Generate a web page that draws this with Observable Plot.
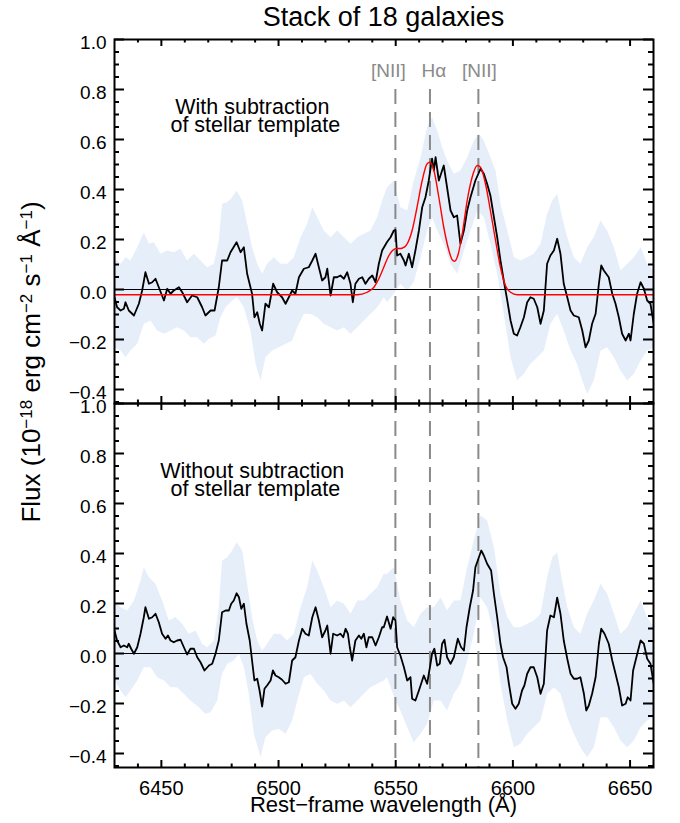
<!DOCTYPE html>
<html><head><meta charset="utf-8">
<script src="https://cdn.jsdelivr.net/npm/d3@7"></script>
<script src="https://cdn.jsdelivr.net/npm/@observablehq/plot@0.6"></script>
<style>
body{margin:0;background:#fff;font-family:"Liberation Sans",Arial,sans-serif;color:#000;}
#wrap{position:relative;width:680px;height:823px;overflow:hidden;}
#title{padding-top:4px;height:26px;line-height:26px;padding-left:114px;width:539px;text-align:center;font-size:27px;white-space:nowrap;}
#chart svg{display:block;}
#ylabel{position:absolute;left:31px;top:362px;transform:translate(-50%,-50%) rotate(-90deg);white-space:nowrap;font-size:26px;line-height:26px;}
#ylabel sup{font-size:17px;vertical-align:0.5em;line-height:0;}
#xlabel{position:absolute;left:114px;width:539px;top:794px;text-align:center;font-size:22px;line-height:22px;white-space:nowrap;}
</style></head>
<body>
<div id="wrap">
<div id="title">Stack of 18 galaxies</div>
<div id="chart"></div>
<div id="ylabel">Flux (10<sup>−18</sup> erg cm<sup>−2</sup> s<sup>−1</sup> Å<sup>−1</sup>)</div>
<div id="xlabel">Rest−frame wavelength (Å)</div>
</div>
<script>
// ---------- data ----------
// Panel 1: with subtraction of stellar template (black spectrum)
const topWave = [6430.0,6431.1,6432.6,6434.0,6434.7,6436.1,6438.3,6440.4,6441.8,6443.2,6444.7,6446.1,6447.5,6448.9,6451.1,6452.5,6453.9,6455.3,6457.5,6458.9,6461.0,6463.1,6465.3,6467.4,6468.8,6471.0,6472.7,6474.5,6475.9,6478.1,6479.5,6482.1,6483.8,6485.2,6486.6,6488.7,6489.7,6490.9,6492.0,6493.0,6494.4,6495.9,6497.7,6499.4,6501.5,6503.0,6504.4,6505.8,6507.2,6508.7,6510.8,6512.9,6514.4,6515.8,6517.2,6518.6,6520.0,6520.8,6522.2,6523.6,6525.0,6526.4,6527.9,6529.3,6530.7,6531.7,6532.8,6534.3,6535.7,6537.1,6538.5,6540.0,6541.4,6542.8,6544.2,6546.3,6547.8,6549.2,6549.9,6550.6,6552.0,6553.5,6554.2,6555.6,6557.0,6558.4,6559.9,6561.3,6562.7,6564.1,6565.5,6566.3,6567.0,6568.4,6569.8,6570.5,6571.9,6573.4,6574.8,6576.2,6577.6,6579.1,6580.5,6581.9,6584.0,6586.2,6587.6,6589.0,6590.4,6591.9,6593.3,6594.7,6596.1,6597.6,6599.0,6600.4,6601.8,6603.2,6604.7,6606.1,6607.5,6608.9,6610.4,6611.8,6613.2,6614.6,6616.0,6617.5,6618.9,6620.3,6621.7,6623.2,6624.6,6626.0,6628.1,6629.6,6631.0,6632.4,6633.8,6635.3,6636.7,6637.7,6638.8,6640.9,6642.4,6643.8,6645.2,6646.6,6648.1,6649.5,6650.2,6651.6,6653.0,6654.5,6655.9,6657.3,6658.7,6660.1];
const topFlux = [-0.031,-0.071,-0.084,-0.077,-0.051,-0.084,-0.104,-0.057,-0.004,0.069,0.023,0.029,0.043,0.009,-0.044,0.003,-0.017,-0.004,0.009,-0.011,-0.051,-0.024,-0.031,-0.071,-0.104,-0.084,-0.084,0.009,0.116,0.116,0.149,0.189,0.149,0.169,0.063,-0.017,-0.111,-0.091,-0.137,-0.164,-0.057,-0.071,0.023,-0.011,-0.031,-0.057,-0.031,-0.004,-0.017,0.049,0.083,0.089,0.116,0.143,0.089,0.036,0.049,0.083,-0.024,0.049,0.049,0.056,0.043,0.069,0.023,-0.051,0.023,0.043,0.049,0.023,0.043,0.056,0.029,0.103,0.156,0.190,0.209,0.236,0.239,0.136,0.143,0.116,0.096,0.143,0.089,0.156,0.236,0.329,0.369,0.436,0.523,0.476,0.529,0.436,0.476,0.496,0.409,0.316,0.289,0.296,0.183,0.236,0.316,0.369,0.436,0.483,0.463,0.423,0.376,0.289,0.209,0.116,0.036,-0.044,-0.124,-0.177,-0.184,-0.151,-0.111,-0.051,-0.031,-0.037,-0.071,-0.137,-0.084,0.103,0.136,0.156,0.203,0.143,0.023,-0.031,-0.084,-0.104,-0.111,-0.164,-0.231,-0.204,-0.137,-0.097,0.023,0.096,0.076,0.049,-0.017,-0.057,-0.111,-0.177,-0.204,-0.177,-0.204,-0.097,-0.017,0.029,0.003,-0.044,-0.057,-0.137];

// Panel 1: band upper and lower edges
const topHiWave = [6430.0,6431.1,6432.6,6434.7,6436.8,6439.7,6442.5,6444.7,6446.8,6449.6,6452.5,6455.3,6458.2,6461.0,6463.9,6466.7,6469.5,6472.4,6474.5,6475.9,6478.1,6480.2,6482.1,6484.5,6486.6,6488.7,6490.9,6493.0,6495.1,6498.0,6500.8,6503.7,6506.5,6509.4,6512.2,6514.4,6516.5,6519.3,6522.2,6525.0,6527.9,6530.7,6533.6,6536.4,6539.2,6542.1,6544.2,6546.3,6549.2,6552.0,6554.9,6557.7,6560.6,6563.4,6565.5,6567.7,6569.8,6571.9,6574.8,6577.6,6580.5,6583.3,6585.5,6587.6,6590.4,6592.6,6594.7,6597.6,6600.4,6603.2,6606.1,6608.9,6611.8,6614.6,6616.8,6618.9,6621.0,6623.2,6626.0,6628.8,6631.7,6634.5,6637.4,6640.2,6643.1,6645.9,6648.8,6651.6,6654.5,6657.3,6660.1];
const topHi = [0.129,0.116,0.103,0.129,0.116,0.169,0.229,0.183,0.189,0.143,0.156,0.149,0.163,0.116,0.143,0.116,0.089,0.103,0.196,0.343,0.349,0.369,0.396,0.356,0.263,0.169,0.103,0.063,0.103,0.129,0.103,0.103,0.129,0.209,0.263,0.329,0.289,0.236,0.209,0.236,0.209,0.183,0.209,0.223,0.236,0.289,0.356,0.409,0.436,0.329,0.316,0.436,0.529,0.649,0.689,0.636,0.569,0.516,0.463,0.476,0.529,0.596,0.623,0.596,0.529,0.476,0.343,0.236,0.129,0.116,0.129,0.143,0.183,0.303,0.356,0.383,0.289,0.209,0.129,0.103,0.169,0.209,0.276,0.236,0.169,0.076,0.103,0.129,0.169,0.103,0.076];
const topLoWave = [6430.0,6432.6,6434.7,6436.8,6439.7,6442.5,6445.4,6448.2,6451.1,6453.9,6456.7,6459.6,6462.4,6465.3,6468.1,6470.3,6473.1,6475.2,6477.4,6480.2,6482.3,6485.2,6488.0,6490.2,6492.3,6494.4,6497.3,6500.1,6503.0,6505.8,6508.0,6510.8,6513.6,6516.5,6519.3,6522.2,6525.0,6527.9,6530.7,6533.6,6536.4,6539.2,6542.1,6544.9,6546.3,6549.2,6552.0,6554.9,6557.7,6560.6,6563.4,6565.5,6567.7,6570.5,6573.4,6576.2,6579.1,6581.9,6584.8,6587.6,6590.4,6593.3,6596.1,6599.0,6601.8,6604.7,6607.5,6610.4,6613.2,6616.0,6618.9,6621.7,6624.6,6627.4,6629.6,6631.7,6634.5,6637.4,6640.2,6643.1,6645.9,6648.8,6651.6,6654.5,6657.3,6660.1];
const topLo = [-0.231,-0.244,-0.271,-0.244,-0.217,-0.137,-0.124,-0.164,-0.177,-0.164,-0.151,-0.164,-0.191,-0.191,-0.217,-0.197,-0.184,-0.111,-0.071,-0.044,-0.031,-0.071,-0.164,-0.297,-0.364,-0.271,-0.244,-0.231,-0.217,-0.204,-0.151,-0.097,-0.097,-0.111,-0.137,-0.151,-0.164,-0.151,-0.177,-0.151,-0.124,-0.097,-0.071,-0.031,-0.050,-0.017,0.023,-0.004,0.030,0.129,0.236,0.289,0.236,0.183,0.103,0.063,0.156,0.236,0.316,0.289,0.183,0.063,-0.097,-0.271,-0.364,-0.337,-0.297,-0.271,-0.244,-0.137,-0.097,-0.164,-0.244,-0.297,-0.364,-0.417,-0.364,-0.244,-0.231,-0.271,-0.324,-0.364,-0.337,-0.284,-0.244,-0.231];

// Panel 1: fitted model (red)
const modelWave = [6430.0,6533.6,6537.8,6540.7,6542.8,6544.9,6547.1,6549.9,6552.7,6554.9,6557.0,6559.1,6561.3,6563.4,6564.6,6566.3,6568.4,6570.5,6572.7,6574.1,6575.1,6576.5,6578.4,6580.5,6582.6,6584.8,6586.2,6588.3,6590.4,6592.6,6594.7,6596.8,6599.0,6601.8,6660.0];
const modelFlux = [-0.021,-0.021,-0.011,0.009,0.043,0.089,0.136,0.163,0.165,0.183,0.236,0.329,0.436,0.503,0.509,0.476,0.369,0.249,0.156,0.119,0.113,0.136,0.223,0.356,0.449,0.496,0.489,0.423,0.316,0.196,0.089,0.016,-0.011,-0.021,-0.021];

// Panel 2: without subtraction (black spectrum)
const botWave = [6430.0,6431.1,6432.6,6434.0,6435.4,6436.1,6437.1,6438.3,6439.7,6441.1,6442.5,6443.2,6444.7,6446.1,6447.5,6448.9,6450.3,6451.8,6452.8,6453.9,6455.3,6456.7,6458.2,6459.6,6461.0,6462.4,6463.9,6465.3,6466.7,6468.4,6470.3,6471.7,6473.1,6474.5,6475.9,6477.4,6478.8,6479.8,6480.9,6482.1,6483.1,6484.1,6485.2,6486.3,6487.7,6488.7,6489.7,6490.9,6491.9,6493.0,6494.0,6495.1,6496.6,6497.6,6498.7,6500.1,6501.5,6503.0,6504.4,6505.8,6507.2,6508.7,6510.1,6511.5,6512.9,6514.4,6515.8,6517.2,6518.6,6520.0,6520.8,6522.2,6523.3,6525.0,6526.4,6527.6,6528.6,6529.6,6530.4,6531.4,6532.8,6534.3,6535.3,6536.4,6537.5,6538.5,6540.0,6541.4,6542.8,6544.2,6544.9,6546.3,6547.8,6548.9,6549.9,6550.6,6552.0,6553.5,6554.9,6556.3,6557.0,6558.4,6559.9,6561.3,6562.0,6563.4,6564.6,6565.5,6566.5,6567.7,6568.8,6569.8,6570.8,6571.9,6573.4,6574.8,6576.5,6577.9,6579.1,6580.2,6581.6,6583.0,6584.0,6585.5,6586.5,6587.6,6589.0,6590.7,6591.9,6593.3,6594.7,6595.8,6597.3,6598.3,6599.7,6601.1,6602.5,6603.9,6604.9,6606.1,6607.5,6608.9,6610.4,6611.8,6613.2,6614.6,6616.0,6617.5,6618.9,6620.3,6621.7,6623.2,6624.6,6626.0,6627.4,6628.8,6630.3,6631.3,6632.4,6633.8,6635.3,6636.7,6637.7,6639.1,6640.9,6642.4,6643.8,6645.2,6646.6,6648.1,6649.0,6650.2,6651.3,6652.7,6654.5,6655.9,6657.3,6658.7,6660.1];
const botFlux = [0.092,0.052,0.025,0.032,0.025,0.039,0.019,-0.001,0.025,0.079,0.145,0.185,0.139,0.145,0.159,0.125,0.079,0.059,0.072,0.052,0.045,0.052,0.055,0.025,-0.004,0.019,0.019,-0.015,-0.035,-0.068,-0.048,-0.041,-0.001,0.052,0.165,0.172,0.172,0.199,0.212,0.241,0.225,0.179,0.199,0.119,0.052,-0.028,-0.108,-0.101,-0.148,-0.212,-0.141,-0.128,-0.108,-0.068,-0.088,-0.095,-0.105,-0.121,-0.115,-0.028,-0.015,0.052,0.099,0.079,0.072,0.145,0.185,0.132,0.065,0.092,0.112,-0.001,0.079,0.072,0.079,0.065,0.099,0.079,0.025,-0.028,0.052,0.072,0.059,0.079,0.025,0.065,0.065,0.032,0.065,0.105,0.105,0.148,0.099,0.145,0.132,0.025,-0.008,-0.055,-0.108,-0.095,-0.181,-0.188,-0.148,-0.108,-0.088,-0.121,-0.055,-0.001,0.019,-0.048,-0.041,0.039,0.055,-0.015,-0.041,-0.015,0.059,0.025,0.012,0.105,0.185,0.252,0.345,0.385,0.412,0.392,0.359,0.332,0.239,0.145,0.039,-0.015,-0.055,-0.121,-0.201,-0.221,-0.201,-0.148,-0.128,-0.081,-0.055,-0.055,-0.095,-0.161,-0.121,0.092,0.152,0.145,0.223,0.159,0.052,-0.021,-0.081,-0.101,-0.101,-0.095,-0.161,-0.228,-0.208,-0.161,-0.095,0.039,0.099,0.079,0.039,-0.028,-0.081,-0.135,-0.208,-0.201,-0.175,-0.188,-0.068,-0.015,0.052,0.039,-0.021,-0.041,-0.121];

// Panel 2: band upper and lower edges
const botHiWave = [6430.0,6432.6,6435.4,6438.3,6441.1,6442.5,6444.7,6447.5,6450.3,6453.2,6456.0,6458.9,6461.7,6464.6,6467.4,6469.5,6472.4,6474.5,6475.9,6478.1,6480.2,6482.1,6484.5,6486.6,6488.7,6490.9,6493.0,6495.1,6498.0,6500.8,6503.7,6506.5,6509.4,6512.2,6514.4,6516.5,6519.3,6522.2,6525.0,6527.9,6530.7,6533.6,6536.4,6539.2,6542.1,6544.9,6546.3,6549.2,6552.0,6554.9,6557.7,6560.6,6563.4,6566.3,6569.1,6571.9,6574.8,6577.6,6580.5,6583.3,6586.2,6589.0,6591.9,6594.7,6597.6,6600.4,6603.2,6606.1,6608.9,6611.8,6614.6,6616.8,6618.9,6621.0,6623.2,6626.0,6628.8,6631.7,6634.5,6637.4,6640.2,6643.1,6645.9,6648.8,6651.6,6654.5,6657.3,6660.1];
const botHi = [0.212,0.185,0.172,0.212,0.292,0.345,0.305,0.279,0.212,0.132,0.145,0.119,0.079,0.092,0.039,0.025,0.052,0.185,0.372,0.385,0.412,0.445,0.412,0.279,0.145,0.052,0.012,0.039,0.079,0.079,0.052,0.079,0.185,0.265,0.372,0.332,0.265,0.185,0.212,0.199,0.159,0.212,0.212,0.239,0.265,0.319,0.319,0.345,0.212,0.132,0.105,0.159,0.185,0.185,0.225,0.172,0.212,0.212,0.345,0.452,0.552,0.532,0.425,0.239,0.145,0.105,0.105,0.119,0.132,0.159,0.305,0.385,0.405,0.292,0.185,0.105,0.079,0.159,0.212,0.279,0.239,0.159,0.079,0.105,0.159,0.212,0.145,0.105];
const botLoWave = [6430.0,6432.6,6434.7,6436.8,6439.7,6442.5,6445.4,6448.2,6451.1,6453.9,6456.7,6459.6,6462.4,6466.0,6468.8,6471.0,6473.8,6475.9,6478.1,6480.9,6483.1,6485.2,6487.3,6489.5,6492.3,6494.4,6497.3,6500.1,6503.0,6505.8,6508.0,6510.8,6513.6,6516.5,6519.3,6522.2,6525.0,6527.9,6530.7,6533.6,6536.4,6539.2,6542.1,6544.9,6546.3,6549.9,6552.0,6554.9,6557.7,6560.6,6563.4,6566.3,6569.1,6571.9,6574.8,6577.6,6580.5,6583.3,6586.2,6589.0,6591.9,6594.7,6597.6,6600.4,6603.2,6606.1,6608.9,6611.8,6614.6,6617.5,6620.3,6623.2,6626.0,6628.8,6631.7,6634.5,6637.4,6640.2,6643.1,6645.9,6648.8,6651.6,6654.5,6657.3,6660.1];
const botLo = [-0.108,-0.148,-0.175,-0.148,-0.108,-0.055,-0.055,-0.095,-0.108,-0.135,-0.135,-0.161,-0.188,-0.215,-0.241,-0.235,-0.188,-0.081,-0.041,-0.028,-0.001,-0.055,-0.161,-0.321,-0.415,-0.335,-0.308,-0.301,-0.321,-0.268,-0.188,-0.095,-0.081,-0.121,-0.148,-0.188,-0.201,-0.188,-0.215,-0.188,-0.161,-0.135,-0.121,-0.108,-0.095,-0.188,-0.228,-0.295,-0.355,-0.321,-0.281,-0.188,-0.188,-0.228,-0.161,-0.121,-0.028,0.079,0.225,0.185,0.079,-0.121,-0.268,-0.375,-0.361,-0.321,-0.295,-0.268,-0.161,-0.135,-0.161,-0.255,-0.321,-0.375,-0.415,-0.375,-0.255,-0.255,-0.295,-0.348,-0.375,-0.348,-0.295,-0.268,-0.255];

// Emission lines (vacuum wavelengths) and their labels
const lineWave = [6549.86, 6564.61, 6585.27];
const lineNames = ["[NII]", "Hα", "[NII]"];

// Panels, annotations, ticks
const panels = ["with", "without"];
const panelNotes = ["With subtraction\n\u00a0of stellar template", "Without subtraction\n\u00a0of stellar template"];
const xMajor = [6450, 6500, 6550, 6600, 6650];
const xMinor = [6440, 6460, 6470, 6480, 6490, 6510, 6520, 6530, 6540, 6560, 6570, 6580, 6590, 6610, 6620, 6630, 6640];
const yMajor = [-0.4, -0.2, 0.0, 0.2, 0.4, 0.6, 0.8, 1.0];
const yMinor = [-0.45, -0.35, -0.3, -0.25, -0.15, -0.1, -0.05, 0.05, 0.1, 0.15, 0.25, 0.3, 0.35, 0.45, 0.5, 0.55, 0.65, 0.7, 0.75, 0.85, 0.9, 0.95];

// ---------- build tables ----------
const rows = (w, f, panel) => w.map((d, i) => ({w: d, f: f[i], panel}));
const topLine = rows(topWave, topFlux, "with");
const botLine = rows(botWave, botFlux, "without");
const model = rows(modelWave, modelFlux, "with");
const topBand = [...rows(topHiWave, topHi, "with"), ...rows(topLoWave, topLo, "with").reverse()];
const botBand = [...rows(botHiWave, botHi, "without"), ...rows(botLoWave, botLo, "without").reverse()];
const notes = panels.map((p, i) => ({panel: p, t: panelNotes[i]}));
const lines = lineWave.map((w, i) => ({w, name: lineNames[i]}));

// ---------- layout ----------
const W = 680, mL = 114, mR = 27, mT = 9, mB = 56;
const PH = 364, PW = W - mL - mR;
const H = mT + 2 * PH + mB;
const bandColor = "#e6eef9";
const gray = "#8a8a8a";
const labelDx = [-7, 4, 1];

const chart = Plot.plot({
  width: W, height: H,
  marginLeft: mL, marginRight: mR, marginTop: mT, marginBottom: mB,
  style: {fontFamily: "'Liberation Sans', Arial, sans-serif", fontSize: "19px", background: "white", color: "black"},
  x: {domain: [6430, 6660]},
  y: {domain: [-0.456, 1.0]},
  fy: {domain: panels, axis: null, padding: 0},
  marks: [
    Plot.line(topBand, {x: "w", y: "f", fy: "panel", fill: bandColor, stroke: "none", clip: true}),
    Plot.line(botBand, {x: "w", y: "f", fy: "panel", fill: bandColor, stroke: "none", clip: true}),
    Plot.ruleY([0], {stroke: "black", strokeWidth: 1}),
    Plot.ruleX(lines, {x: "w", fy: () => "with", insetTop: 50, stroke: gray, strokeWidth: 2, strokeDasharray: "15,8"}),
    Plot.ruleX(lines, {x: "w", fy: () => "without", stroke: gray, strokeWidth: 2, strokeDasharray: "15,8", strokeDashoffset: 5}),
    ...lines.map((d, i) => Plot.text([d], {x: "w", y: 0.876, text: "name", fy: () => "with", dx: labelDx[i], fill: gray, fontSize: 19})),
    Plot.line(topLine, {x: "w", y: "f", fy: "panel", stroke: "black", strokeWidth: 1.8, clip: true}),
    Plot.line(botLine, {x: "w", y: "f", fy: "panel", stroke: "black", strokeWidth: 1.8, clip: true}),
    Plot.line(model, {x: "w", y: "f", fy: "panel", stroke: "#ff0000", strokeWidth: 1.4, curve: "monotone-x", clip: true}),
    Plot.text(notes, {x: 6488.8, y: 0.69, text: "t", fy: "panel", fontSize: 21.5, lineHeight: 0.87, fill: "black"}),
    // inward ticks on all four sides
    Plot.tickX(xMajor, {x: d => d, insetTop: PH - 7, stroke: "black", strokeWidth: 2}),
    Plot.tickX(xMajor, {x: d => d, insetBottom: PH - 7, stroke: "black", strokeWidth: 2}),
    Plot.tickX(xMinor, {x: d => d, insetTop: PH - 3.5, stroke: "black", strokeWidth: 2}),
    Plot.tickX(xMinor, {x: d => d, insetBottom: PH - 3.5, stroke: "black", strokeWidth: 2}),
    Plot.tickY(yMajor, {y: d => d, insetRight: PW - 10, stroke: "black", strokeWidth: 2}),
    Plot.tickY(yMajor, {y: d => d, insetLeft: PW - 10, stroke: "black", strokeWidth: 2}),
    Plot.tickY(yMinor, {y: d => d, insetRight: PW - 5, stroke: "black", strokeWidth: 2}),
    Plot.tickY(yMinor, {y: d => d, insetLeft: PW - 5, stroke: "black", strokeWidth: 2}),
    Plot.frame({stroke: "black", strokeWidth: 2}),
    Plot.axisY(yMajor, {tickSize: 0, tickPadding: 8, tickFormat: ".1f", fontSize: 19, dy: 3, label: null}),
    Plot.axisX(xMajor, {tickSize: 0, tickPadding: 13, tickFormat: "d", fontSize: 20, label: null})
  ]
});
document.getElementById("chart").appendChild(chart);
</script>
</body></html>
